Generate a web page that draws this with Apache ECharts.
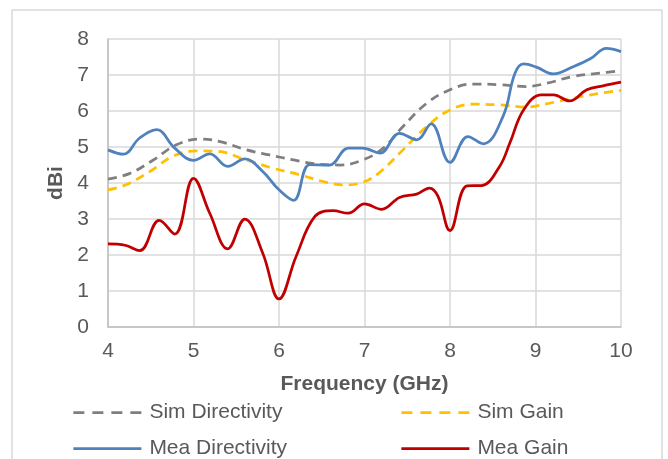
<!DOCTYPE html>
<html>
<head>
<meta charset="utf-8">
<script src="https://cdn.jsdelivr.net/npm/echarts@6/dist/echarts.min.js"></script>
<style>html,body{margin:0;padding:0;background:#fff}#c{width:668px;height:459px}</style>
</head>
<body>
<div id="c"></div>
<script>
const xTicks = [4, 5, 6, 7, 8, 9, 10];
const yTicks = [0, 1, 2, 3, 4, 5, 6, 7, 8];

const simDirF = [4.0, 4.25, 4.53, 4.80, 5.07, 5.31, 5.62, 5.89, 6.17, 6.44, 6.71, 6.98, 7.22, 7.45, 7.73, 8.0, 8.27, 8.58, 8.89, 9.13, 9.44, 9.75, 10.0];
const simDirV = [4.11, 4.26, 4.64, 5.06, 5.22, 5.15, 4.92, 4.78, 4.64, 4.53, 4.50, 4.64, 4.97, 5.57, 6.22, 6.59, 6.75, 6.73, 6.68, 6.77, 6.96, 7.05, 7.12];

const simGainF = [4.0, 4.21, 4.49, 4.76, 5.03, 5.27, 5.62, 5.93, 6.24, 6.52, 6.75, 6.98, 7.18, 7.45, 7.73, 8.0, 8.27, 8.58, 8.89, 9.13, 9.44, 9.75, 10.0];
const simGainV = [3.81, 3.95, 4.32, 4.74, 4.89, 4.88, 4.64, 4.41, 4.23, 4.04, 3.95, 4.02, 4.30, 4.92, 5.57, 6.03, 6.19, 6.17, 6.11, 6.20, 6.36, 6.49, 6.57];

const meaDirF = [4.0, 4.18, 4.37, 4.57, 4.78, 5.0, 5.19, 5.4, 5.6, 5.81, 6.0, 6.17, 6.36, 6.59, 6.81, 6.98, 7.18, 7.41, 7.61, 7.78, 8.0, 8.21, 8.39, 8.62, 8.76, 8.86, 9.01, 9.21, 9.44, 9.64, 9.83, 10.0];
const meaDirV = [4.92, 4.80, 5.25, 5.48, 4.97, 4.63, 4.81, 4.46, 4.67, 4.32, 3.81, 3.52, 4.51, 4.50, 4.97, 4.97, 4.83, 5.38, 5.20, 5.64, 4.57, 5.29, 5.09, 5.85, 7.05, 7.31, 7.22, 7.03, 7.23, 7.45, 7.74, 7.65];

const meaGainF = [4.0, 4.2, 4.37, 4.6, 4.78, 5.0, 5.19, 5.4, 5.6, 5.81, 6.0, 6.2, 6.42, 6.63, 6.81, 7.0, 7.2, 7.41, 7.61, 7.76, 7.86, 8.0, 8.2, 8.37, 8.58, 8.7, 8.86, 9.07, 9.21, 9.4, 9.6, 9.79, 10.0];
const meaGainV = [2.31, 2.27, 2.12, 2.96, 2.58, 4.13, 3.16, 2.17, 3.0, 2.05, 0.78, 1.96, 3.07, 3.23, 3.16, 3.42, 3.27, 3.60, 3.69, 3.86, 3.63, 2.68, 3.92, 3.93, 4.46, 5.11, 6.03, 6.45, 6.45, 6.28, 6.59, 6.70, 6.80];

const names = ['Sim Directivity', 'Sim Gain', 'Mea Directivity', 'Mea Gain'];
const colors = ['#7f7f7f', '#ffc000', '#4f81bd', '#c00000'];

function pairs(f, v) { return f.map((x, i) => [x, v[i]]); }

const FONT = 'Liberation Sans, Arial, sans-serif';
const FS = 21;
const chart = echarts.init(document.getElementById('c'));

function mk(i, f, v, dashed) {
  return {
    name: names[i], type: 'line', data: pairs(f, v),
    smooth: 0.4, showSymbol: false, symbol: 'none',
    lineStyle: { color: colors[i], width: 2.75, type: dashed ? [9, 6] : 'solid' },
    itemStyle: { color: colors[i] }
  };
}

function leg(i, left, top, dashed) {
  return {
    data: [names[i]], left: left, top: top, padding: 0,
    itemWidth: 68, itemHeight: 14, itemGap: 0,
    itemStyle: { opacity: 0, borderWidth: 0 },
    lineStyle: { width: 2.75, type: dashed ? [11, 8] : 'solid' },
    textStyle: { fontFamily: FONT, fontSize: FS, color: '#595959', padding: [0, 0, 0, 3] }
  };
}

chart.setOption({
  animation: false,
  backgroundColor: '#fff',
  graphic: [{
    type: 'rect', shape: { x: 12, y: 10, width: 650, height: 460 },
    style: { fill: 'none', stroke: '#d9d9d9', lineWidth: 1.5 }, z: -1
  }],
  grid: { left: 108, right: 47, top: 39, bottom: 132 },
  xAxis: {
    type: 'value', min: xTicks[0], max: xTicks[xTicks.length - 1], interval: 1,
    name: 'Frequency (GHz)', nameLocation: 'middle', nameGap: 47,
    nameTextStyle: { fontFamily: FONT, fontSize: FS, fontWeight: 'bold', color: '#595959' },
    axisLine: { show: true, lineStyle: { color: '#bfbfbf', width: 1.5 } },
    axisTick: { show: false },
    axisLabel: { fontFamily: FONT, fontSize: FS, color: '#595959', margin: 14 },
    splitLine: { show: true, lineStyle: { color: '#d9d9d9', width: 1.5 } }
  },
  yAxis: {
    type: 'value', min: yTicks[0], max: yTicks[yTicks.length - 1], interval: 1,
    name: 'dBi', nameLocation: 'middle', nameGap: 40, nameRotate: 90,
    nameTextStyle: { fontFamily: FONT, fontSize: FS, fontWeight: 'bold', color: '#595959' },
    axisLine: { show: true, lineStyle: { color: '#bfbfbf', width: 1.5 } },
    axisTick: { show: false },
    axisLabel: { fontFamily: FONT, fontSize: FS, color: '#595959', margin: 19 },
    splitLine: { show: true, lineStyle: { color: '#d9d9d9', width: 1.5 } }
  },
  legend: [
    leg(0, 72, 402, true),
    leg(1, 400, 402, true),
    leg(2, 72, 438, false),
    leg(3, 400, 438, false)
  ],
  series: [
    mk(0, simDirF, simDirV, true),
    mk(1, simGainF, simGainV, true),
    mk(2, meaDirF, meaDirV, false),
    mk(3, meaGainF, meaGainV, false)
  ]
});
</script>
</body>
</html>
